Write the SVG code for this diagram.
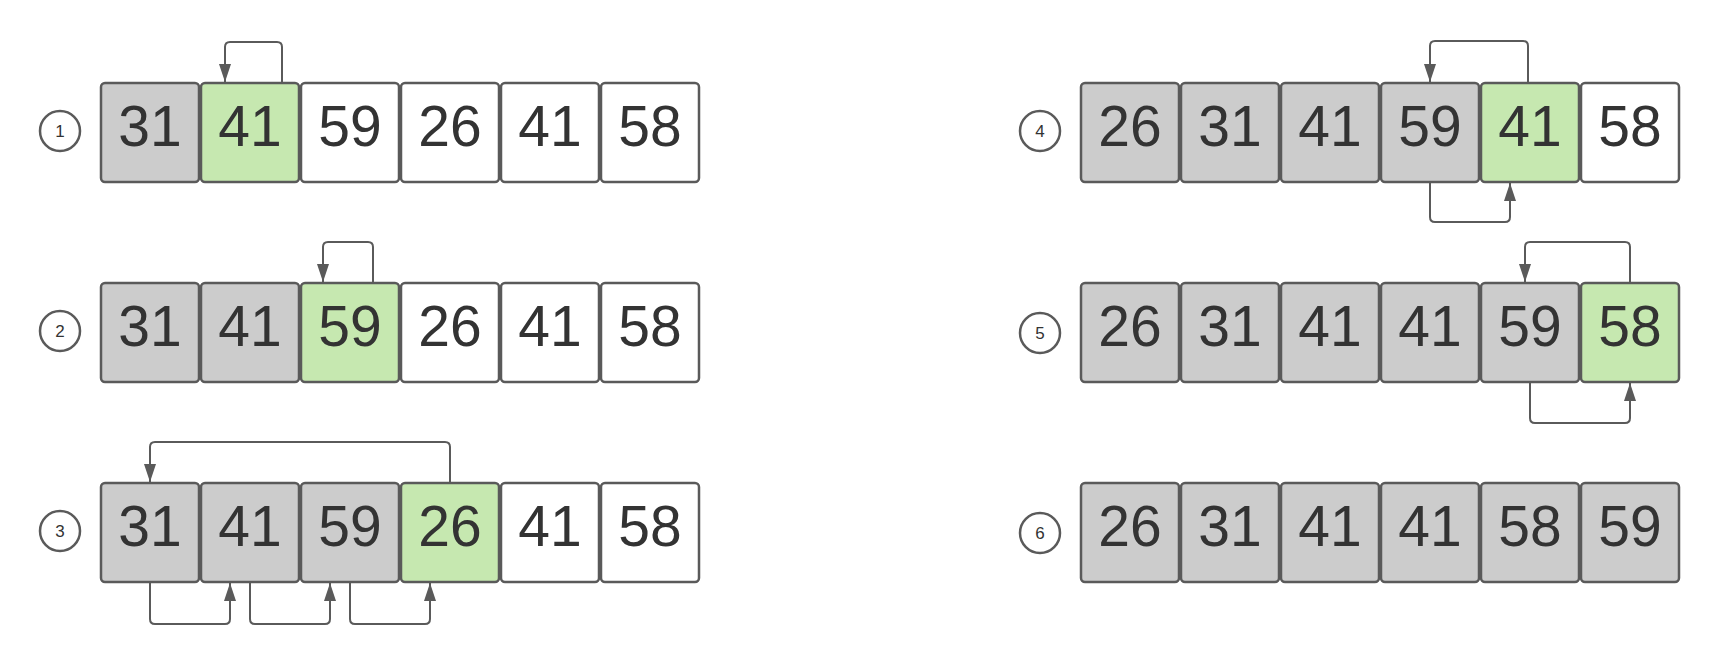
<svg xmlns="http://www.w3.org/2000/svg" width="1720" height="665" viewBox="0 0 1720 665">
<defs>
<style>
.cell{stroke:#5a5a5a;stroke-width:2.5}
.g{fill:#cccccc}
.a{fill:#c6e8b0}
.w{fill:#ffffff}
.num{font-family:"Liberation Sans",Arial,sans-serif;font-size:57px;fill:#333333;text-anchor:middle}
.step{fill:#ffffff;stroke:#5a5a5a;stroke-width:2.5}
.stept{font-family:"Liberation Sans",Arial,sans-serif;font-size:17px;fill:#333333;text-anchor:middle}
.conn{fill:none;stroke:#5a5a5a;stroke-width:2;marker-end:url(#arr)}
</style>
<marker id="arr" viewBox="0 0 18 12" markerWidth="18" markerHeight="12" refX="18" refY="6" orient="auto" markerUnits="userSpaceOnUse">
<path d="M0,0 L18,6 L0,12 Z" fill="#5a5a5a"/>
</marker>
</defs>
<rect width="1720" height="665" fill="#ffffff"/>

<g id="row1">
<circle class="step" cx="60" cy="131" r="20"/><text class="stept" x="60" y="137">1</text>
<rect class="cell g" x="101" y="83" width="98" height="99" rx="4"/><text class="num" x="150" y="146">31</text>
<rect class="cell a" x="201" y="83" width="98" height="99" rx="4"/><text class="num" x="250" y="146">41</text>
<rect class="cell w" x="301" y="83" width="98" height="99" rx="4"/><text class="num" x="350" y="146">59</text>
<rect class="cell w" x="401" y="83" width="98" height="99" rx="4"/><text class="num" x="450" y="146">26</text>
<rect class="cell w" x="501" y="83" width="98" height="99" rx="4"/><text class="num" x="550" y="146">41</text>
<rect class="cell w" x="601" y="83" width="98" height="99" rx="4"/><text class="num" x="650" y="146">58</text>
</g>

<g id="row2">
<circle class="step" cx="60" cy="331" r="20"/><text class="stept" x="60" y="337">2</text>
<rect class="cell g" x="101" y="283" width="98" height="99" rx="4"/><text class="num" x="150" y="346">31</text>
<rect class="cell g" x="201" y="283" width="98" height="99" rx="4"/><text class="num" x="250" y="346">41</text>
<rect class="cell a" x="301" y="283" width="98" height="99" rx="4"/><text class="num" x="350" y="346">59</text>
<rect class="cell w" x="401" y="283" width="98" height="99" rx="4"/><text class="num" x="450" y="346">26</text>
<rect class="cell w" x="501" y="283" width="98" height="99" rx="4"/><text class="num" x="550" y="346">41</text>
<rect class="cell w" x="601" y="283" width="98" height="99" rx="4"/><text class="num" x="650" y="346">58</text>
</g>

<g id="row3">
<circle class="step" cx="60" cy="531" r="20"/><text class="stept" x="60" y="537">3</text>
<rect class="cell g" x="101" y="483" width="98" height="99" rx="4"/><text class="num" x="150" y="546">31</text>
<rect class="cell g" x="201" y="483" width="98" height="99" rx="4"/><text class="num" x="250" y="546">41</text>
<rect class="cell g" x="301" y="483" width="98" height="99" rx="4"/><text class="num" x="350" y="546">59</text>
<rect class="cell a" x="401" y="483" width="98" height="99" rx="4"/><text class="num" x="450" y="546">26</text>
<rect class="cell w" x="501" y="483" width="98" height="99" rx="4"/><text class="num" x="550" y="546">41</text>
<rect class="cell w" x="601" y="483" width="98" height="99" rx="4"/><text class="num" x="650" y="546">58</text>
</g>

<g id="row4">
<circle class="step" cx="1040" cy="131" r="20"/><text class="stept" x="1040" y="137">4</text>
<rect class="cell g" x="1081" y="83" width="98" height="99" rx="4"/><text class="num" x="1130" y="146">26</text>
<rect class="cell g" x="1181" y="83" width="98" height="99" rx="4"/><text class="num" x="1230" y="146">31</text>
<rect class="cell g" x="1281" y="83" width="98" height="99" rx="4"/><text class="num" x="1330" y="146">41</text>
<rect class="cell g" x="1381" y="83" width="98" height="99" rx="4"/><text class="num" x="1430" y="146">59</text>
<rect class="cell a" x="1481" y="83" width="98" height="99" rx="4"/><text class="num" x="1530" y="146">41</text>
<rect class="cell w" x="1581" y="83" width="98" height="99" rx="4"/><text class="num" x="1630" y="146">58</text>
</g>

<g id="row5">
<circle class="step" cx="1040" cy="333" r="20"/><text class="stept" x="1040" y="339">5</text>
<rect class="cell g" x="1081" y="283" width="98" height="99" rx="4"/><text class="num" x="1130" y="346">26</text>
<rect class="cell g" x="1181" y="283" width="98" height="99" rx="4"/><text class="num" x="1230" y="346">31</text>
<rect class="cell g" x="1281" y="283" width="98" height="99" rx="4"/><text class="num" x="1330" y="346">41</text>
<rect class="cell g" x="1381" y="283" width="98" height="99" rx="4"/><text class="num" x="1430" y="346">41</text>
<rect class="cell g" x="1481" y="283" width="98" height="99" rx="4"/><text class="num" x="1530" y="346">59</text>
<rect class="cell a" x="1581" y="283" width="98" height="99" rx="4"/><text class="num" x="1630" y="346">58</text>
</g>

<g id="row6">
<circle class="step" cx="1040" cy="533" r="20"/><text class="stept" x="1040" y="539">6</text>
<rect class="cell g" x="1081" y="483" width="98" height="99" rx="4"/><text class="num" x="1130" y="546">26</text>
<rect class="cell g" x="1181" y="483" width="98" height="99" rx="4"/><text class="num" x="1230" y="546">31</text>
<rect class="cell g" x="1281" y="483" width="98" height="99" rx="4"/><text class="num" x="1330" y="546">41</text>
<rect class="cell g" x="1381" y="483" width="98" height="99" rx="4"/><text class="num" x="1430" y="546">41</text>
<rect class="cell g" x="1481" y="483" width="98" height="99" rx="4"/><text class="num" x="1530" y="546">58</text>
<rect class="cell g" x="1581" y="483" width="98" height="99" rx="4"/><text class="num" x="1630" y="546">59</text>
</g>

<g id="connectors">
<path class="conn" d="M282,82 V47 Q282,42 277,42 H230 Q225,42 225,47 V82"/>
<path class="conn" d="M373,282 V247 Q373,242 368,242 H328 Q323,242 323,247 V282"/>
<path class="conn" d="M450,482 V447 Q450,442 445,442 H155 Q150,442 150,447 V482"/>
<path class="conn" d="M150,583 V619 Q150,624 155,624 H225 Q230,624 230,619 V583"/>
<path class="conn" d="M250,583 V619 Q250,624 255,624 H325 Q330,624 330,619 V583"/>
<path class="conn" d="M350,583 V619 Q350,624 355,624 H425 Q430,624 430,619 V583"/>
<path class="conn" d="M1528,82 V46 Q1528,41 1523,41 H1435 Q1430,41 1430,46 V82"/>
<path class="conn" d="M1430,183 V217 Q1430,222 1435,222 H1505 Q1510,222 1510,217 V183"/>
<path class="conn" d="M1630,282 V247 Q1630,242 1625,242 H1530 Q1525,242 1525,247 V282"/>
<path class="conn" d="M1530,383 V418 Q1530,423 1535,423 H1625 Q1630,423 1630,418 V383"/>
</g>
</svg>
